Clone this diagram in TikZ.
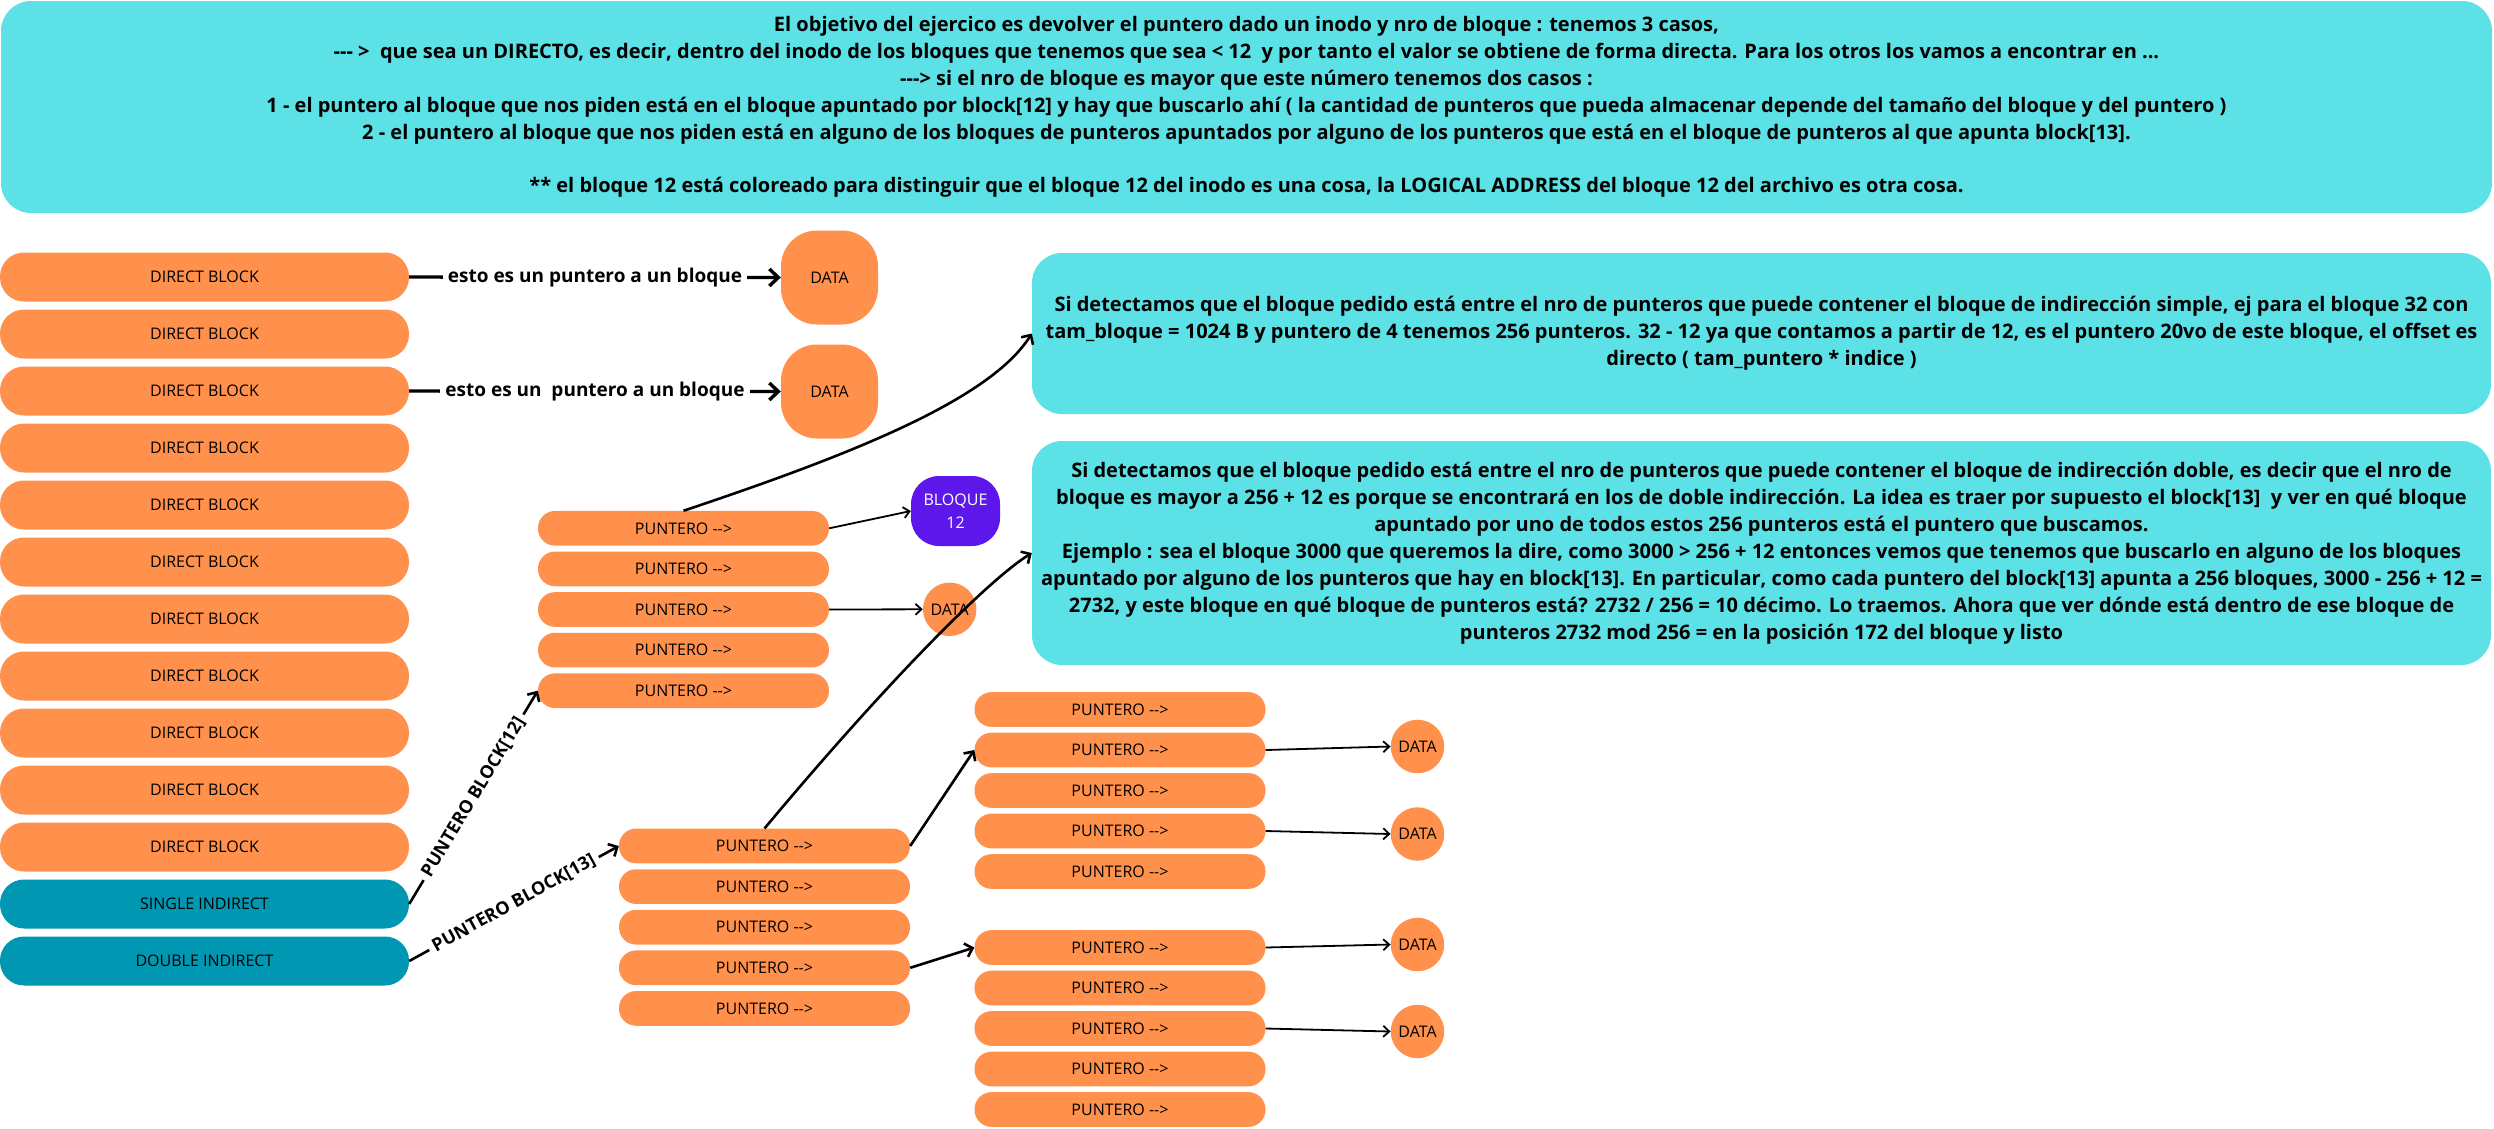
\documentclass[tikz,border=0pt]{standalone}
\usepackage{fontspec}
\setmainfont{Open Sans}[Ligatures=TeXOff]
\usetikzlibrary{arrows.meta}

\definecolor{orng}{HTML}{FF914D}
\definecolor{notecyan}{HTML}{5CE1E6}
\definecolor{indteal}{HTML}{0097B2}
\definecolor{purp}{HTML}{5E17EB}

\newcommand\boxfont{\fontsize{16}{21}\selectfont}
\newcommand\notefont{\fontsize{20}{27}\selectfont\bfseries}
\newcommand\tagfont{\fontsize{18}{22}\selectfont\bfseries}
\newcommand\estofont{\fontsize{19}{23}\selectfont\bfseries}

\begin{document}
\begin{tikzpicture}[x=1pt,y=-1pt,
  blk/.style={fill=orng, rounded corners=24pt, minimum width=409pt, minimum height=49pt, inner sep=0pt, font=\boxfont},
  indblk/.style={blk, fill=indteal},
  ptr/.style={fill=orng, rounded corners=17pt, minimum width=291pt, minimum height=34.7pt, inner sep=0pt, font=\boxfont},
  note/.style={fill=notecyan, rounded corners=30pt, inner sep=0pt, align=center, font=\notefont},
  datarect/.style={fill=orng, rounded corners=36pt, minimum width=97pt, minimum height=94pt, inner sep=0pt, font=\boxfont},
  datacirc/.style={circle, fill=orng, minimum size=53.5pt, inner sep=0pt, font=\boxfont},
  thinarrow/.style={line width=1.8pt, -{Straight Barb[length=6pt,width=11pt]}},
  boldarrow/.style={line width=2.6pt, -{Straight Barb[length=7pt,width=14pt]}},
  estoarrow/.style={line width=3.4pt, -{Straight Barb[length=9pt,width=17pt]}},
  tag/.style={midway, sloped, fill=white, inner xsep=5pt, inner ysep=2pt, font=\tagfont},
  estotag/.style={midway, fill=white, inner xsep=5pt, inner ysep=3pt, font=\estofont}
]
\fill[white] (0,0) rectangle (2494,1128);
\path[use as bounding box] (0,0) rectangle (2494,1128);

% explanation boxes
\node[note, minimum width=2491pt, minimum height=212pt] (intro) at (1246.5,107) {%
El objetivo del ejercico es devolver el puntero dado un inodo y nro de bloque : tenemos 3 casos,\\
--- >\ \ que sea un DIRECTO, es decir, dentro del inodo de los bloques que tenemos que sea < 12\ \ y por tanto el valor se obtiene de forma directa. Para los otros los vamos a encontrar en ...\\
---> si el nro de bloque es mayor que este número tenemos dos casos :\\
1 - el puntero al bloque que nos piden está en el bloque apuntado por block[12] y hay que buscarlo ahí ( la cantidad de punteros que pueda almacenar depende del tamaño del bloque y del puntero )\\
2 - el puntero al bloque que nos piden está en alguno de los bloques de punteros apuntados por alguno de los punteros que está en el bloque de punteros al que apunta block[13].\\[26pt]
{}** el bloque 12 está coloreado para distinguir que el bloque 12 del inodo es una cosa, la LOGICAL ADDRESS del bloque 12 del archivo es otra cosa.};

\node[note, minimum width=1459pt, minimum height=161pt] (simple) at (1761.5,333.5) {%
Si detectamos que el bloque pedido está entre el nro de punteros que puede contener el bloque de indirección simple, ej para el bloque 32 con\\
tam\_bloque = 1024 B y puntero de 4 tenemos 256 punteros. 32 - 12 ya que contamos a partir de 12, es el puntero 20vo de este bloque, el offset es\\
directo ( tam\_puntero * indice )};

\node[note, minimum width=1459pt, minimum height=224pt] (doble) at (1761.5,553) {%
Si detectamos que el bloque pedido está entre el nro de punteros que puede contener el bloque de indirección doble, es decir que el nro de\\
bloque es mayor a 256 + 12 es porque se encontrará en los de doble indirección. La idea es traer por supuesto el block[13]\ \ y ver en qué bloque\\
apuntado por uno de todos estos 256 punteros está el puntero que buscamos.\\
Ejemplo : sea el bloque 3000 que queremos la dire, como 3000 > 256 + 12 entonces vemos que tenemos que buscarlo en alguno de los bloques\\
apuntado por alguno de los punteros que hay en block[13]. En particular, como cada puntero del block[13] apunta a 256 bloques, 3000 - 256 + 12 =\\
2732, y este bloque en qué bloque de punteros está? 2732 / 256 = 10 décimo. Lo traemos. Ahora que ver dónde está dentro de ese bloque de\\
punteros 2732 mod 256 = en la posición 172 del bloque y listo};

% inode block list
\foreach \i in {1,...,11}
  \node[blk] (db\i) at (204.5,{277+57*(\i-1)}) {DIRECT BLOCK};
\node[indblk] (si) at (204.5,904) {SINGLE INDIRECT};
\node[indblk] (di) at (204.5,961) {DOUBLE INDIRECT};

% data blocks of the direct pointers
\node[datarect] (dataA) at (829.5,277.5) {DATA};
\node[datarect] (dataB) at (829.5,391.5) {DATA};

% pointer blocks
\foreach \i in {1,...,5} {
  \node[ptr] (ga\i) at (683.5,{528.3+40.6*(\i-1)}) {PUNTERO -->};
  \node[ptr] (gb\i) at (764.5,{846+40.6*(\i-1)}) {PUNTERO -->};
  \node[ptr] (gc\i) at (1120,{709.5+40.5*(\i-1)}) {PUNTERO -->};
  \node[ptr] (gd\i) at (1120,{947.5+40.5*(\i-1)}) {PUNTERO -->};
}

\node[fill=purp, rounded corners=28pt, minimum width=89pt, minimum height=70pt, inner sep=0pt,
      align=center, text=white, font=\fontsize{16}{22.7}\selectfont] (b12) at (955.5,511) {BLOQUE\\12};
\node[datacirc] (dc0) at (949.7,609.3) {DATA};
\node[datacirc] (dc1) at (1417.5,746.5) {DATA};
\node[datacirc] (dc2) at (1417.5,834) {DATA};
\node[datacirc] (dc3) at (1417.5,944.5) {DATA};
\node[datacirc] (dc4) at (1417.5,1031.5) {DATA};

% direct pointers
\draw[estoarrow] (db1.east) -- node[estotag] {esto es un puntero a un bloque} (dataA.west);
\draw[estoarrow] (db3.east) -- node[estotag] {esto es un\ \ puntero a un bloque} (dataB.west);

% indirect pointers
\draw[boldarrow] (si.east) -- node[tag] {PUNTERO BLOCK[12]} (ga5.west);
\draw[boldarrow] (di.east) -- node[tag] {PUNTERO BLOCK[13]} (gb1.west);

\draw[thinarrow] (ga1.east) -- (b12.west);
\draw[thinarrow] (ga3.east) -- (dc0.west);

\draw[boldarrow] (gb1.east) -- (gc2.west);
\draw[boldarrow] (gb4.east) -- (gd1.west);

\draw[thinarrow] (gc2.east) -- (dc1.west);
\draw[thinarrow] (gc4.east) -- (dc2.west);
\draw[thinarrow] (gd1.east) -- (dc3.west);
\draw[thinarrow] (gd3.east) -- (dc4.west);

% links from the pointer blocks to their explanations
\draw[boldarrow] (ga1.north) .. controls (850,455) and (990,400) .. (simple.west);
\draw[boldarrow] (gb1.north) .. controls (886,683) and (988,580) .. (doble.west);
\end{tikzpicture}
\end{document}
